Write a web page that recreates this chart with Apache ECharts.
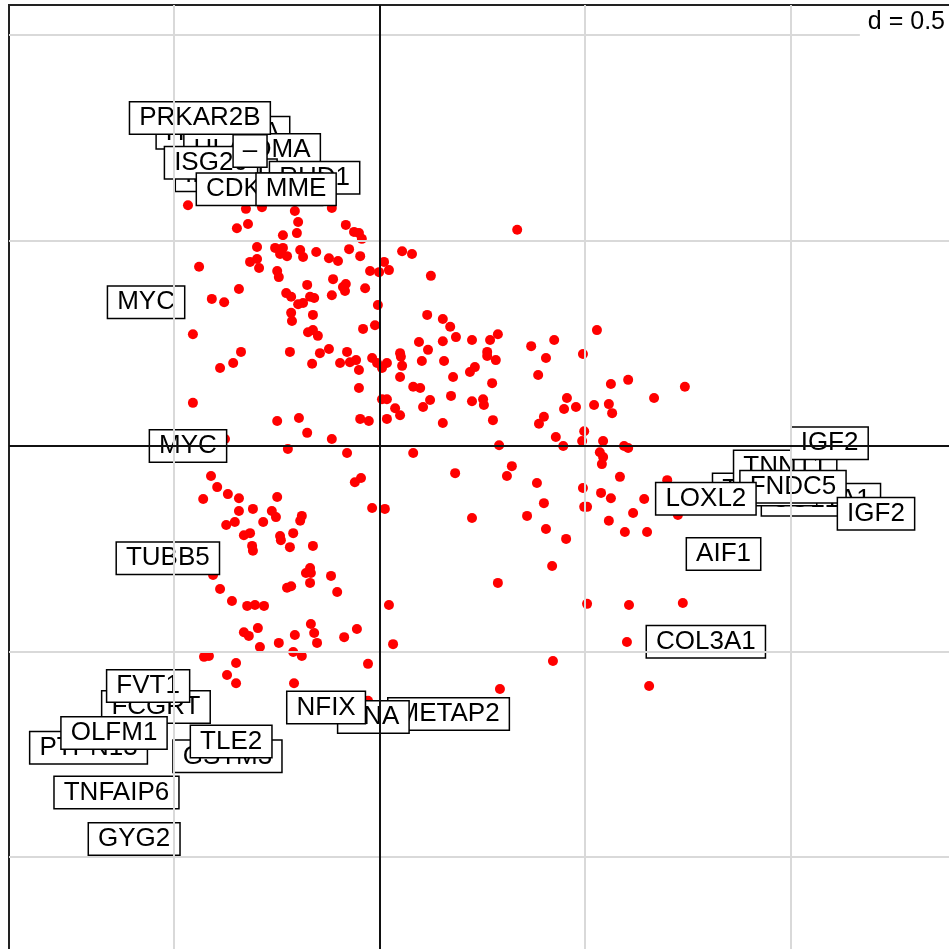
<!DOCTYPE html>
<html>
<head>
    <meta charset="utf-8"/>
    <title>s.label</title>
    <script src="https://cdn.jsdelivr.net/npm/echarts@6/dist/echarts.min.js"></script>
</head>
<body style="margin:0">
<div id="chart" style="width: 949px;height:949px;"></div>
<script type="text/javascript">
    // row scores (first two axes)
    var rowScores = [
        [-0.466, 0.586], [-0.325, 0.577], [-0.286, 0.581], [-0.206, 0.572], [-0.116, 0.579],
        [-0.198, 0.545], [-0.320, 0.540], [-0.347, 0.530], [-0.201, 0.518], [-0.235, 0.513],
        [-0.082, 0.538], [-0.062, 0.521], [-0.050, 0.518], [-0.043, 0.504], [0.335, 0.526],
        [-0.298, 0.484], [-0.254, 0.482], [-0.235, 0.482], [-0.242, 0.467], [-0.225, 0.462],
        [-0.193, 0.477], [-0.186, 0.460], [-0.154, 0.472], [-0.123, 0.457], [-0.101, 0.450],
        [-0.074, 0.479], [-0.047, 0.462], [-0.315, 0.448], [-0.298, 0.455], [-0.293, 0.433],
        [-0.439, 0.436], [-0.249, 0.426], [-0.245, 0.411], [0.011, 0.448], [0.023, 0.428],
        [-0.023, 0.426], [-0.001, 0.423], [0.055, 0.474], [0.079, 0.467], [0.125, 0.414],
        [-0.113, 0.406], [-0.176, 0.392], [-0.089, 0.387], [-0.082, 0.394], [-0.084, 0.377],
        [-0.035, 0.384], [-0.342, 0.382], [-0.408, 0.358], [-0.378, 0.350], [-0.227, 0.372],
        [-0.215, 0.363], [-0.169, 0.363], [-0.159, 0.360], [-0.116, 0.367], [-0.198, 0.345],
        [-0.186, 0.348], [-0.004, 0.343], [-0.215, 0.324], [-0.213, 0.304], [-0.162, 0.319],
        [-0.454, 0.272], [-0.040, 0.285], [-0.011, 0.294], [-0.174, 0.277], [-0.162, 0.282],
        [-0.150, 0.268], [0.116, 0.319], [0.154, 0.309], [0.172, 0.290], [0.186, 0.265],
        [0.225, 0.258], [0.269, 0.258], [0.288, 0.272], [0.096, 0.253], [0.154, 0.255],
        [0.118, 0.234], [0.262, 0.229], [0.262, 0.219], [0.283, 0.209], [0.369, 0.243],
        [0.425, 0.258], [0.405, 0.214], [0.386, 0.173], [-0.337, 0.229], [-0.388, 0.190],
        [-0.356, 0.202], [-0.218, 0.229], [-0.164, 0.200], [-0.145, 0.226], [-0.123, 0.236],
        [-0.079, 0.229], [-0.096, 0.202], [-0.072, 0.204], [-0.057, 0.209], [-0.050, 0.185],
        [-0.018, 0.214], [-0.006, 0.202], [0.006, 0.190], [0.018, 0.202], [0.050, 0.226],
        [0.052, 0.217], [0.055, 0.195], [0.050, 0.168], [0.103, 0.207], [0.157, 0.207],
        [0.179, 0.168], [0.220, 0.180], [0.232, 0.192], [0.274, 0.153], [-0.050, 0.141],
        [0.006, 0.114], [0.018, 0.114], [0.082, 0.144], [0.099, 0.141], [0.123, 0.112],
        [0.106, 0.095], [0.174, 0.122], [0.225, 0.109], [0.252, 0.114], [0.254, 0.100],
        [0.038, 0.092], [0.050, 0.075], [0.018, 0.066], [-0.047, 0.066], [-0.026, 0.061],
        [-0.196, 0.068], [-0.249, 0.061], [-0.454, 0.105], [-0.176, 0.032], [-0.116, 0.017],
        [-0.376, 0.017], [-0.223, -0.007], [-0.079, -0.017], [0.082, -0.017], [0.154, 0.056],
        [0.276, 0.063], [0.291, 0.002], [0.388, 0.054], [0.400, 0.071], [0.429, 0.022],
        [0.447, 0.000], [0.456, 0.117], [0.449, 0.090], [0.529, 0.282], [0.495, 0.224],
        [0.563, 0.151], [0.605, 0.161], [0.743, 0.144], [0.668, 0.117], [0.478, 0.095],
        [0.522, 0.100], [0.558, 0.102], [0.566, 0.080], [0.498, 0.036], [0.493, 0.012],
        [0.544, 0.012], [0.595, 0.000], [0.605, -0.005], [0.536, -0.015], [0.544, -0.027],
        [0.541, -0.044], [0.585, -0.075], [0.495, -0.102], [0.539, -0.114], [0.563, -0.127],
        [0.644, -0.129], [0.700, -0.083], [0.726, -0.168], [0.498, -0.148], [0.505, -0.148],
        [0.617, -0.163], [0.558, -0.182], [0.597, -0.209], [0.651, -0.209], [0.454, -0.226],
        [0.505, -0.384], [0.607, -0.387], [0.738, -0.382], [0.602, -0.477], [0.656, -0.584],
        [0.322, -0.049], [0.310, -0.073], [0.184, -0.066], [0.383, -0.090], [0.400, -0.139],
        [0.359, -0.170], [0.405, -0.202], [0.225, -0.175], [0.420, -0.292], [0.288, -0.333],
        [0.422, -0.523], [0.293, -0.591], [0.023, -0.387], [0.033, -0.482], [-0.028, -0.530],
        [0.013, -0.153], [-0.018, -0.151], [-0.060, -0.088], [-0.045, -0.078],
        [-0.410, -0.073], [-0.395, -0.100], [-0.429, -0.129], [-0.369, -0.117], [-0.342, -0.127],
        [-0.249, -0.124], [-0.342, -0.158], [-0.308, -0.153], [-0.262, -0.158], [-0.252, -0.173],
        [-0.373, -0.192], [-0.352, -0.185], [-0.283, -0.185], [-0.189, -0.170], [-0.193, -0.182],
        [-0.330, -0.217], [-0.315, -0.212], [-0.242, -0.219], [-0.240, -0.229], [-0.210, -0.212],
        [-0.310, -0.243], [-0.308, -0.255], [-0.218, -0.246], [-0.162, -0.243], [-0.169, -0.297],
        [-0.179, -0.309], [-0.167, -0.309], [-0.169, -0.333], [-0.118, -0.316], [-0.103, -0.355],
        [-0.225, -0.345], [-0.215, -0.341], [-0.405, -0.314], [-0.388, -0.348], [-0.359, -0.377],
        [-0.322, -0.389], [-0.303, -0.387], [-0.281, -0.389], [-0.330, -0.453], [-0.318, -0.462],
        [-0.296, -0.443], [-0.245, -0.479], [-0.206, -0.460], [-0.167, -0.433], [-0.159, -0.455],
        [-0.152, -0.479], [-0.086, -0.465], [-0.055, -0.445], [-0.291, -0.489], [-0.210, -0.501],
        [-0.189, -0.511], [-0.427, -0.513], [-0.415, -0.511], [-0.349, -0.528], [-0.371, -0.557],
        [-0.349, -0.577], [-0.208, -0.577], [-0.028, -0.620]
    ];

    // labelled genes, in drawing order
    var labelNames = ['HLA-DRA', 'HLA-DMA', 'PRKAR2B', 'IFITM1', 'ISG20', '–', 'RHD1', 'CDKN1C', 'MME',
        'MYC', 'MYC', 'TUBB5',
        'PTPN13', 'FCGRT', 'FVT1', 'OLFM1', 'TNFAIP6', 'GYG2', 'GSTM3', 'TLE2',
        'METAP2', 'TNA', 'NFIX',
        'COL1A1', 'TAGLN', 'TNNT1', 'IGF2', 'FNDC5', 'LOXL2', 'IGF2', 'AIF1', 'COL3A1'];
    var labelX = [-0.381, -0.310, -0.437, -0.373, -0.410, -0.315, -0.158, -0.292, -0.203,
        -0.568, -0.466, -0.515,
        -0.708, -0.544, -0.563, -0.646, -0.640, -0.597, -0.370, -0.361,
        0.168, -0.015, -0.130,
        1.074, 0.937, 0.987, 1.095, 1.006, 0.794, 1.208, 0.837, 0.794];
    var labelY = [0.762, 0.720, 0.798, 0.659, 0.689, 0.718, 0.653, 0.625, 0.625,
        0.350, 0.000, -0.273,
        -0.734, -0.635, -0.584, -0.698, -0.843, -0.956, -0.755, -0.719,
        -0.652, -0.659, -0.636,
        -0.131, -0.106, -0.050, 0.007, -0.099, -0.128, -0.165, -0.263, -0.476];

    var gridX = [-0.5, 0.5, 1, 1.5];
    var gridY = [-1, -0.5, 0.5, 1];

    var font = 'Liberation Sans, Arial, sans-serif';

    var guideLines = [];
    gridX.forEach(function (v) { guideLines.push({ xAxis: v }); });
    gridY.forEach(function (v) { guideLines.push({ yAxis: v }); });

    var option = {
        animation: false,
        title: {
            text: 'd = 0.5',
            right: 0,
            top: 7,
            backgroundColor: '#fff',
            padding: [3, 4, 3, 8],
            textStyle: { fontSize: 25, fontWeight: 'normal', color: '#000', fontFamily: font, lineHeight: 25 }
        },
        grid: {
            left: 9, top: 5, width: 1000, height: 1000,
            outerBoundsMode: 'none',
            containLabel: false,
            show: true, borderColor: '#222', borderWidth: 2
        },
        xAxis: {
            type: 'value', min: -0.9015, max: 1.5316,
            axisLine: { show: false }, axisTick: { show: false },
            axisLabel: { show: false }, splitLine: { show: false }
        },
        yAxis: {
            type: 'value', min: -1.360, max: 1.073,
            axisLine: { show: false }, axisTick: { show: false },
            axisLabel: { show: false }, splitLine: { show: false }
        },
        series: [
            {
                name: 'grid',
                type: 'scatter',
                z: 1,
                data: [],
                markLine: {
                    silent: true,
                    symbol: ['none', 'none'],
                    label: { show: false },
                    lineStyle: { color: '#d9d9d9', width: 2, type: 'solid', opacity: 1 },
                    data: guideLines
                }
            },
            {
                name: 'axes',
                type: 'scatter',
                z: 1,
                data: [],
                markLine: {
                    silent: true,
                    symbol: ['none', 'none'],
                    label: { show: false },
                    lineStyle: { color: '#111', width: 2, type: 'solid', opacity: 1 },
                    data: [{ xAxis: 0 }, { yAxis: 0 }]
                }
            },
            {
                name: 'rows',
                type: 'scatter',
                z: 2,
                symbolSize: 10,
                itemStyle: { color: '#ff0000', opacity: 1 },
                data: rowScores
            },
            {
                name: 'labels',
                type: 'scatter',
                z: 3,
                symbolSize: 1,
                itemStyle: { color: 'rgba(0,0,0,0)', opacity: 1 },
                label: {
                    show: true,
                    position: 'inside',
                    formatter: '{b}',
                    color: '#000',
                    fontSize: 26,
                    lineHeight: 26,
                    fontFamily: font,
                    backgroundColor: '#fff',
                    borderColor: '#000',
                    borderWidth: 1.5,
                    padding: [3, 9, 2, 9]
                },
                labelLayout: { hideOverlap: false },
                data: labelNames.map(function (n, i) {
                    return { name: n, value: [labelX[i], labelY[i]] };
                })
            }
        ]
    };

    var chart = echarts.init(document.getElementById('chart'));
    chart.setOption(option);
</script>
</body>
</html>
